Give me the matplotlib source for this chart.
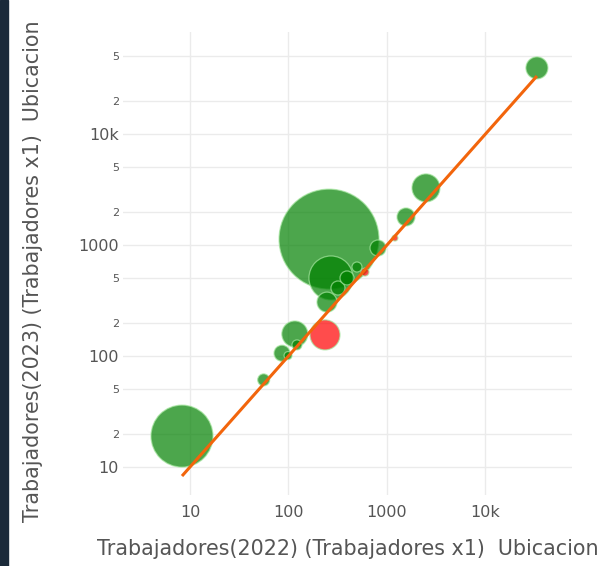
import numpy as np
import matplotlib.pyplot as plt
from matplotlib.ticker import FixedLocator, NullFormatter
from matplotlib.patches import Rectangle

# Trabajadores por ubicacion (2022 vs 2023)
trab_2022 = [33300, 2490, 1560, 258, 270, 811, 246, 318, 393, 496,
             235, 598, 1205, 116, 122, 86, 99, 56, 8.3]
trab_2023 = [39400, 3270, 1790, 1130, 505, 940, 306, 410, 505, 634,
             155, 571, 1156, 158, 126, 106, 101, 61, 19]
tamano = [121, 196, 81, 2500, 484, 64, 100, 49, 49, 25,
          225, 16, 9, 169, 25, 64, 16, 36, 961]

y_major = [10, 100, 1000, 10000]
y_major_labels = ['10', '100', '1000', '10k']
y_minor = [2, 5, 20, 50, 200, 500, 2000, 5000, 20000, 50000]
y_minor_labels = ['2', '5', '2', '5', '2', '5', '2', '5', '2', '5']
x_major = [10, 100, 1000, 10000]
x_major_labels = ['10', '100', '1000', '10k']

plt.rcParams['font.family'] = ['DejaVu Sans']

fig = plt.figure(figsize=(6.03, 5.66), dpi=100)
fig.patches.append(Rectangle((0, 0), 8 / 603, 1, transform=fig.transFigure,
                             color='#1b2a3a', zorder=0))
ax = fig.add_axes([123 / 603, 1 - 495 / 566, (572 - 123) / 603, (495 - 32) / 566])

x = np.array(trab_2022)
y = np.array(trab_2023)
colores = np.where(y >= x, 'green', 'red')

# bubble size: area proportional to the value, max diameter 100 px
max_d_px = 100
d_px = max_d_px * np.sqrt(np.array(tamano) / max(tamano))
s = (d_px * 0.72) ** 2
ax.scatter(x, y, s=s, c=colores, alpha=0.7, edgecolors='#a6e6a0', linewidths=0.9, zorder=3)

# identity line
lx = np.array([x.min(), x.max()])
ax.plot(lx, lx, color='#f2650c', linewidth=2.2, zorder=4, solid_capstyle='butt')

ax.set_xscale('log')
ax.set_yscale('log')
ax.set_xlim(2.09, 75600)
ax.set_ylim(5.6, 83000)

ax.xaxis.set_major_locator(FixedLocator(x_major))
ax.set_xticklabels(x_major_labels)
ax.xaxis.set_minor_locator(FixedLocator([]))
ax.xaxis.set_minor_formatter(NullFormatter())

ax.yaxis.set_major_locator(FixedLocator(y_major))
ax.set_yticklabels(y_major_labels)
ax.yaxis.set_minor_locator(FixedLocator(y_minor))
ax.yaxis.set_minor_formatter(plt.FixedFormatter(y_minor_labels))

ax.tick_params(axis='both', which='both', length=0, colors='#555555')
ax.tick_params(axis='both', which='major', labelsize=11.5)
ax.tick_params(axis='y', which='minor', labelsize=8, pad=3)
ax.tick_params(axis='y', which='major', pad=3)
ax.tick_params(axis='x', which='major', pad=7)

ax.grid(True, which='both', color='#ebebeb', linewidth=1, zorder=0)
ax.set_axisbelow(True)
for sp in ax.spines.values():
    sp.set_visible(False)

fig.text(97 / 603, 1 - 549 / 566, 'Trabajadores(2022) (Trabajadores x1)  Ubicacion',
         ha='left', va='center', fontsize=14.9, color='#555555')
fig.text(33 / 603, 1 - 522 / 566, 'Trabajadores(2023) (Trabajadores x1)  Ubicacion',
         ha='center', va='bottom', rotation=90, fontsize=14.9, color='#555555')

fig.savefig('out.png', dpi=100)
